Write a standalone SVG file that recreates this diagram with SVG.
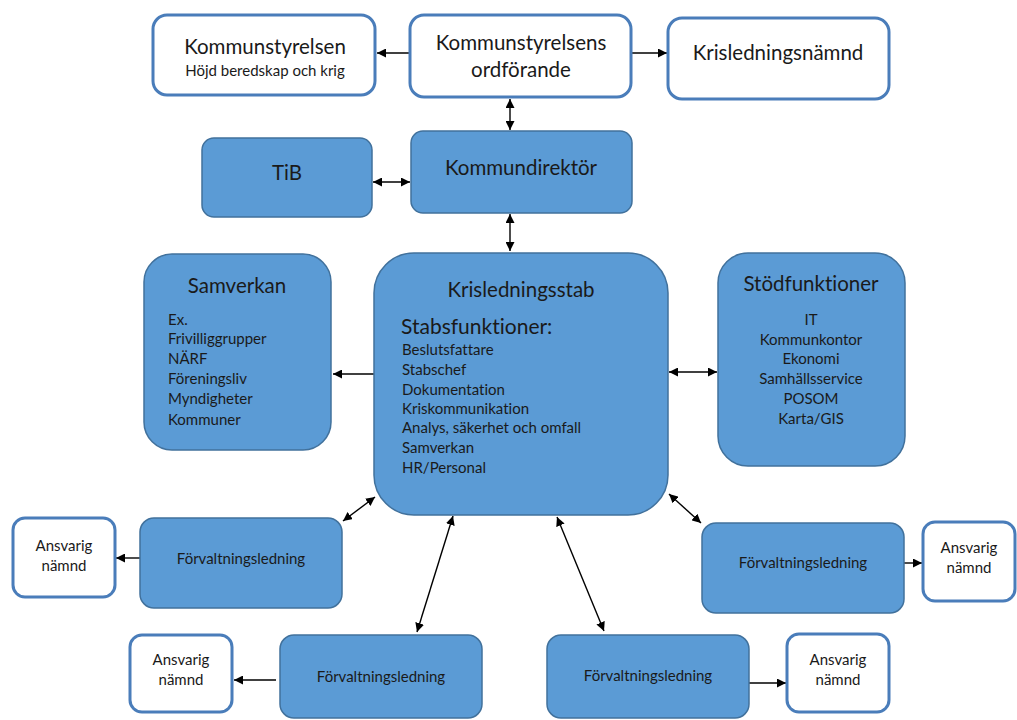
<svg xmlns="http://www.w3.org/2000/svg" width="1017" height="720" viewBox="0 0 1017 720">
<style>
.w{fill:#fff;stroke:#4a7dba;stroke-width:3}
.b{fill:#5b9bd5;stroke:#41719c;stroke-width:1.5}
text{font-family:Lato,"Open Sans","Liberation Sans",sans-serif;fill:#1a1a1a;font-variant-ligatures:none;font-feature-settings:"liga" 0,"dlig" 0}
.t19{font-size:20.5px}
.t20{font-size:21px}
.t14{font-size:15px}
.c{text-anchor:middle}
.a{stroke:#000;stroke-width:1.4;fill:none;marker-end:url(#ah)}
.d{stroke:#000;stroke-width:1.4;fill:none;marker-end:url(#ah);marker-start:url(#ah)}
</style>
<defs>
<marker id="ah" markerUnits="userSpaceOnUse" markerWidth="10" markerHeight="9" refX="9" refY="4.5" orient="auto-start-reverse">
<path d="M0,0 L9,4.5 L0,9 z" fill="#000"/>
</marker>
</defs>
<rect width="1017" height="720" fill="#fff"/>
<g id="connectors">
<line class="a" x1="410" y1="53" x2="377" y2="53"/>
<line class="a" x1="631" y1="53" x2="667" y2="53"/>
<line class="d" x1="510" y1="99" x2="510" y2="130"/>
<line class="d" x1="373" y1="182" x2="410" y2="182"/>
<line class="d" x1="510" y1="214" x2="510" y2="251"/>
<line class="a" x1="374" y1="374" x2="333" y2="374"/>
<line class="d" x1="669" y1="372" x2="717" y2="372"/>
<line class="d" x1="375" y1="497" x2="343" y2="521"/>
<line class="d" x1="453" y1="516" x2="417" y2="632"/>
<line class="d" x1="557" y1="517" x2="604" y2="631"/>
<line class="d" x1="669" y1="494" x2="701" y2="523"/>
<line class="a" x1="140" y1="558" x2="116" y2="558"/>
<line class="a" x1="276" y1="680" x2="234" y2="680"/>
<line class="a" x1="749" y1="683" x2="786" y2="683"/>
<line class="a" x1="900" y1="563" x2="922" y2="563"/>
</g>
<g id="kommunstyrelsen">
<rect class="w" x="153" y="15" width="222" height="80" rx="14"/>
<text class="t19 c" x="265" y="54">Kommunstyrelsen</text>
<text class="t14 c" x="265" y="76">Höjd beredskap och krig</text>
</g>
<g id="ordforande">
<rect class="w" x="410" y="15" width="221" height="82" rx="14"/>
<text class="t19 c" x="521" y="50">Kommunstyrelsens</text>
<text class="t19 c" x="521" y="77">ordförande</text>
</g>
<g id="krisledningsnamnd">
<rect class="w" x="668" y="18" width="221" height="81" rx="14"/>
<text class="t19 c" x="778" y="60">Krisledningsnämnd</text>
</g>
<g id="kommundirektor">
<rect class="b" x="411" y="131" width="221" height="82" rx="12"/>
<text class="t19 c" x="521" y="175">Kommundirektör</text>
</g>
<g id="tib">
<rect class="b" x="202" y="138" width="170" height="79" rx="12"/>
<text class="t19 c" x="287" y="180">TiB</text>
</g>
<g id="samverkan">
<rect class="b" x="144" y="254" width="187" height="196" rx="28"/>
<text class="t19 c" x="237" y="293">Samverkan</text>
<text class="t14" x="168" y="325">Ex.</text>
<text class="t14" x="168" y="344">Frivilliggrupper</text>
<text class="t14" x="168" y="364">NÄRF</text>
<text class="t14" x="168" y="384">Föreningsliv</text>
<text class="t14" x="168" y="404">Myndigheter</text>
<text class="t14" x="168" y="425">Kommuner</text>
</g>
<g id="krisledningsstab">
<rect class="b" x="374" y="253" width="294" height="262" rx="40"/>
<text class="t19 c" x="521" y="297">Krisledningsstab</text>
<text class="t20" x="401" y="334">Stabsfunktioner:</text>
<text class="t14" x="402" y="355">Beslutsfattare</text>
<text class="t14" x="402" y="375">Stabschef</text>
<text class="t14" x="402" y="395">Dokumentation</text>
<text class="t14" x="402" y="414">Kriskommunikation</text>
<text class="t14" x="402" y="433">Analys, säkerhet och omfall</text>
<text class="t14" x="402" y="453">Samverkan</text>
<text class="t14" x="402" y="473">HR/Personal</text>
</g>
<g id="stodfunktioner">
<rect class="b" x="718" y="253" width="187" height="213" rx="30"/>
<text class="t19 c" x="811" y="291">Stödfunktioner</text>
<text class="t14 c" x="811" y="325">IT</text>
<text class="t14 c" x="811" y="345">Kommunkontor</text>
<text class="t14 c" x="811" y="364">Ekonomi</text>
<text class="t14 c" x="811" y="384">Samhällsservice</text>
<text class="t14 c" x="811" y="404">POSOM</text>
<text class="t14 c" x="811" y="424">Karta/GIS</text>
</g>
<g id="forvaltning1">
<rect class="b" x="140" y="518" width="202" height="90" rx="14"/>
<text class="t14 c" x="241" y="564">Förvaltningsledning</text>
</g>
<g id="ansvarig1">
<rect class="w" x="13" y="518" width="102" height="79" rx="12"/>
<text class="t14 c" x="64" y="551">Ansvarig</text>
<text class="t14 c" x="64" y="571">nämnd</text>
</g>
<g id="forvaltning2">
<rect class="b" x="280" y="635" width="202" height="83" rx="14"/>
<text class="t14 c" x="381" y="682">Förvaltningsledning</text>
</g>
<g id="ansvarig2">
<rect class="w" x="130" y="635" width="102" height="77" rx="12"/>
<text class="t14 c" x="181" y="665">Ansvarig</text>
<text class="t14 c" x="181" y="685">nämnd</text>
</g>
<g id="forvaltning3">
<rect class="b" x="547" y="635" width="202" height="83" rx="14"/>
<text class="t14 c" x="648" y="681">Förvaltningsledning</text>
</g>
<g id="ansvarig3">
<rect class="w" x="787" y="634" width="102" height="78" rx="12"/>
<text class="t14 c" x="838" y="665">Ansvarig</text>
<text class="t14 c" x="838" y="685">nämnd</text>
</g>
<g id="forvaltning4">
<rect class="b" x="702" y="523" width="202" height="90" rx="14"/>
<text class="t14 c" x="803" y="568">Förvaltningsledning</text>
</g>
<g id="ansvarig4">
<rect class="w" x="923" y="522" width="92" height="79" rx="12"/>
<text class="t14 c" x="969" y="553">Ansvarig</text>
<text class="t14 c" x="969" y="573">nämnd</text>
</g>
</svg>
